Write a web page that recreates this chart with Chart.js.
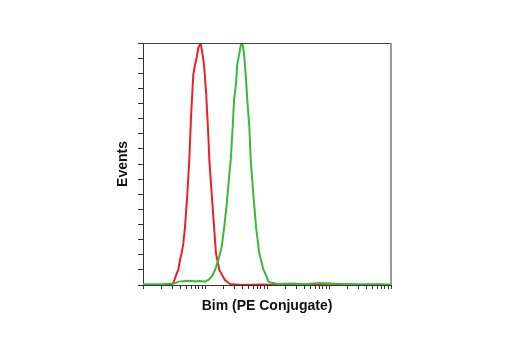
<!DOCTYPE html>
<html>
<head>
<meta charset="utf-8">
<script src="https://cdn.jsdelivr.net/npm/chart.js@4/dist/chart.umd.min.js"></script>
<style>
  html, body { margin: 0; padding: 0; background: #fff; }
  #wrap { width: 520px; height: 350px; }
</style>
</head>
<body>
<div id="wrap"><canvas id="chart"></canvas></div>
<script>
// fluorescence intensity (log axis) and events, % of peak
const redX = [1, 2, 2.72, 3.08, 3.50, 3.71, 3.95, 4.21, 4.47, 4.75, 5.19, 5.58, 5.94, 6.47, 6.90, 7.35, 7.80, 8.53, 9.18, 9.64, 10.4, 11.3, 11.8, 12.8, 14.0, 15.0, 17.0, 21.0, 25.3, 40, 80, 150, 300, 600, 1000, 2000, 3000, 6000, 10000];
const redY = [0, 0, 0, 0.7, 4.8, 6.2, 10.3, 13.2, 17.2, 23.7, 37.6, 51.7, 69, 86.8, 91, 94, 98, 100, 95, 91, 79.9, 62, 51, 38, 24, 13.2, 6.2, 2, 0.4, 0, 0.2, 0, 0.3, 0, 0.6, 0.2, 0, 0.2, 0];

const greenX = [1, 2, 3.28, 3.71, 4.42, 5.73, 6.90, 8.30, 10.0, 11.3, 12.8, 14.5, 16.4, 18.6, 20.5, 22.4, 24.4, 26.0, 28.0, 29.4, 31.6, 33.2, 35.7, 38.1, 40.0, 42.6, 45.8, 48.1, 51.9, 54.6, 60.1, 66.5, 75.2, 87.1, 98.9, 105, 119, 150, 250, 400, 700, 1200, 2500, 10000];
const greenY = [0.3, 0.3, 0.7, 1.4, 1.6, 1.8, 1.5, 1.7, 1.4, 2.1, 3.4, 6.2, 10.3, 15.8, 24.2, 33.3, 44.3, 51.7, 65.4, 76.3, 83.1, 91.3, 95.5, 99.6, 100, 95.5, 85.4, 76.3, 65.4, 51.7, 37.6, 24, 13, 6.5, 3.4, 1.4, 0.9, 0.4, 0.6, 0.3, 0.8, 0.4, 0.3, 0.2];

const decades = [1, 10, 100, 1000];
const xTicks = [];
decades.forEach((d) => { for (let k = 1; k < 10; k++) xTicks.push(k * d); });
xTicks.push(10000);

const toPoints = (xs, ys) => xs.map((x, i) => ({ x: x, y: ys[i] }));

// top and right edge of the frame
const frame = {
  id: 'frame',
  afterDraw(chart) {
    const { ctx, chartArea: a } = chart;
    ctx.save();
    ctx.strokeStyle = '#444';
    ctx.lineWidth = 1;
    ctx.beginPath();
    ctx.moveTo(a.left, a.top + 0.5);
    ctx.lineTo(a.right, a.top + 0.5);
    ctx.stroke();
    ctx.strokeStyle = '#999';
    ctx.lineWidth = 2;
    ctx.beginPath();
    ctx.moveTo(a.right, a.top);
    ctx.lineTo(a.right, a.bottom);
    ctx.stroke();
    ctx.restore();
  },
};

const titleFont = { family: "'Liberation Sans', Arial, sans-serif", size: 14, weight: 'bold' };

new Chart(document.getElementById('chart'), {
  type: 'line',
  data: {
    datasets: [
      { data: toPoints(greenX, greenY), borderColor: '#3cb83c', borderWidth: 2, pointRadius: 0, tension: 0 },
      { data: toPoints(redX, redY), borderColor: '#ea2228', borderWidth: 2, pointRadius: 0, tension: 0 },
    ],
  },
  plugins: [frame],
  options: {
    responsive: true,
    maintainAspectRatio: false,
    animation: false,
    events: [],
    layout: { padding: { left: 108, top: 43, right: 129, bottom: 31 } },
    plugins: { legend: { display: false }, tooltip: { enabled: false } },
    scales: {
      x: {
        type: 'logarithmic',
        min: 1,
        max: 10000,
        afterBuildTicks: (s) => { s.ticks = xTicks.map((v) => ({ value: v })); },
        afterFit: (s) => { s.height = 34; },
        ticks: { display: false },
        grid: { drawOnChartArea: false, drawTicks: true, tickLength: 4, color: '#333' },
        border: { display: true, color: '#333', width: 1 },
        title: { display: true, text: 'Bim (PE Conjugate)', color: '#111', font: titleFont, padding: { top: 8 } },
      },
      y: {
        min: 0,
        max: 100,
        ticks: { display: false, stepSize: 6.25 },
        afterFit: (s) => { s.width = 35; },
        grid: { drawOnChartArea: false, drawTicks: true, tickLength: 5, color: '#333' },
        border: { display: true, color: '#333', width: 1 },
        title: { display: true, text: 'Events', color: '#111', font: titleFont, padding: { top: 7 } },
      },
    },
  },
});
</script>
</body>
</html>
